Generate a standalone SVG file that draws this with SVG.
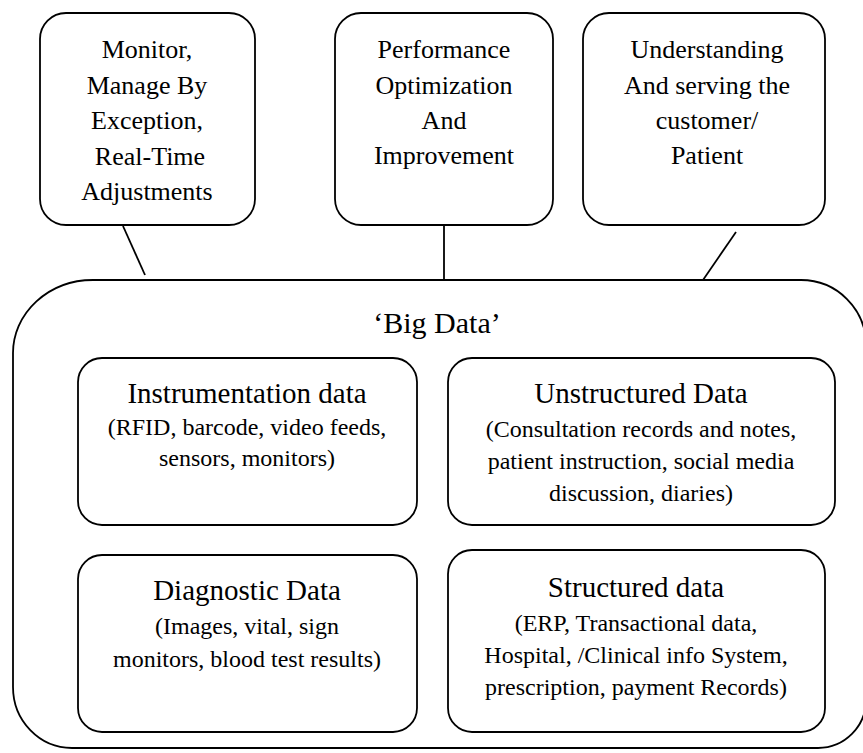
<svg xmlns="http://www.w3.org/2000/svg" width="863" height="753" viewBox="0 0 863 753" font-family="'Liberation Serif', 'Times New Roman', Times, 'DejaVu Serif', serif">
<style>
.box{fill:#fff;stroke:#000;stroke-width:1.8}
.ln{stroke:#000;stroke-width:1.8;fill:none}
text{fill:#000;text-anchor:middle}
.t{font-size:26px}
.h{font-size:29px}
.s{font-size:24px}
.big{font-size:30px}
</style>
<rect width="863" height="753" fill="#fff"/>
<g id="connectors">
<line class="ln" x1="123" y1="226" x2="145" y2="275"/>
<line class="ln" x1="444" y1="226" x2="444" y2="280"/>
<line class="ln" x1="736" y1="232" x2="703" y2="280"/>
</g>
<g id="top1">
<rect class="box" x="40" y="13" width="215" height="212" rx="26"/>
<text class="t" x="147" y="58">Monitor,</text>
<text class="t" x="147" y="94">Manage By</text>
<text class="t" x="147" y="129">Exception,</text>
<text class="t" x="150" y="165">Real-Time</text>
<text class="t" x="147" y="200">Adjustments</text>
</g>
<g id="top2">
<rect class="box" x="335" y="13" width="218" height="212" rx="26"/>
<text class="t" x="444" y="58">Performance</text>
<text class="t" x="444" y="94">Optimization</text>
<text class="t" x="444" y="129">And</text>
<text class="t" x="444" y="164">Improvement</text>
</g>
<g id="top3">
<rect class="box" x="583" y="13" width="242" height="212" rx="26"/>
<text class="t" x="707" y="58">Understanding</text>
<text class="t" x="707" y="94">And serving the</text>
<text class="t" x="707" y="129">customer/</text>
<text class="t" x="707" y="164">Patient</text>
</g>
<g id="bigdata">
<path class="box" d="M 93 280 H 801 A 65 65 0 0 1 866 345 V 700 A 48 48 0 0 1 818 748 H 72 A 59 61 0 0 1 13 687 V 353 A 80 73 0 0 1 93 280 Z"/>
<text class="big" x="437" y="333">‘Big Data’</text>
</g>
<g id="instrumentation">
<rect class="box" x="78" y="358" width="339" height="167" rx="24"/>
<text class="h" x="247" y="403">Instrumentation data</text>
<text class="s" x="247" y="435">(RFID, barcode, video feeds,</text>
<text class="s" x="247" y="466">sensors, monitors)</text>
</g>
<g id="unstructured">
<rect class="box" x="448" y="358" width="387" height="167" rx="24"/>
<text class="h" x="641" y="403">Unstructured Data</text>
<text class="s" x="641" y="437">(Consultation records and notes,</text>
<text class="s" x="641" y="469">patient instruction, social media</text>
<text class="s" x="641" y="501">discussion, diaries)</text>
</g>
<g id="diagnostic">
<rect class="box" x="78" y="555" width="339" height="177" rx="24"/>
<text class="h" x="247" y="600">Diagnostic Data</text>
<text class="s" x="247" y="634">(Images, vital, sign</text>
<text class="s" x="247" y="667">monitors, blood test results)</text>
</g>
<g id="structured">
<rect class="box" x="448" y="550" width="377" height="182" rx="24"/>
<text class="h" x="636" y="597">Structured data</text>
<text class="s" x="636" y="631">(ERP, Transactional data,</text>
<text class="s" x="636" y="663">Hospital, /Clinical info System,</text>
<text class="s" x="636" y="695">prescription, payment Records)</text>
</g>
</svg>
